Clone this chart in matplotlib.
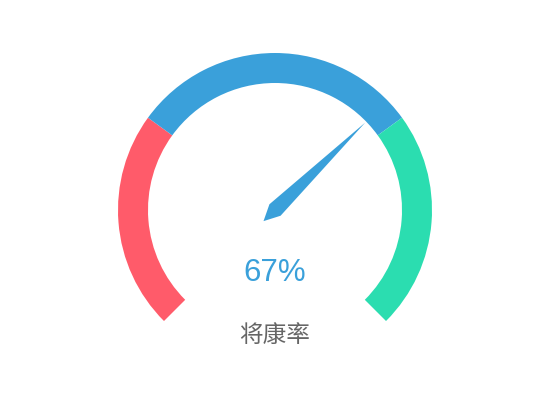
import numpy as np
import matplotlib.pyplot as plt
from matplotlib.patches import Wedge, Polygon

plt.rcParams['font.family'] = ['Noto Sans CJK SC', 'DejaVu Sans']

# gauge data
value = 67
title = "将康率"
stops = [0.3, 0.7, 1.0]
colors = ['#FF5B6A', '#3AA0DA', '#2BDDB0']

start_angle, end_angle = 225, -45
cx, cy = 275, 210
radius = 157
band = 30


def to_angle(frac):
    return start_angle + (end_angle - start_angle) * frac


fig = plt.figure(figsize=(5.5, 4.2), dpi=100)
ax = fig.add_axes([0, 0, 1, 1])
ax.set_xlim(0, 550)
ax.set_ylim(0, 420)
ax.set_aspect('equal')
ax.axis('off')

# colored bands
prev = 0
for s, c in zip(stops, colors):
    ax.add_patch(Wedge((cx, cy), radius, to_angle(s), to_angle(prev),
                       width=band, facecolor=c, edgecolor='none'))
    prev = s

# pointer
a = np.radians(to_angle(value / 100))
plen = radius * 0.8
hw = 8
ux, uy = np.cos(a), np.sin(a)
px, py = -uy, ux
pts = [
    (cx + ux * plen, cy + uy * plen),
    (cx + px * hw, cy + py * hw),
    (cx - ux * hw * 2, cy - uy * hw * 2),
    (cx - px * hw, cy - py * hw),
]
ax.add_patch(Polygon(pts, closed=True, facecolor='#3AA0DA', edgecolor='none'))

ax.text(cx, 147, f"{value}%", ha='center', va='center', fontsize=22.5,
        color='#3AA0DA', family='Liberation Sans')
ax.text(cx, 84, title, ha='center', va='center', fontsize=17, color='#666666')

fig.savefig('out.png', dpi=100, facecolor='white')
